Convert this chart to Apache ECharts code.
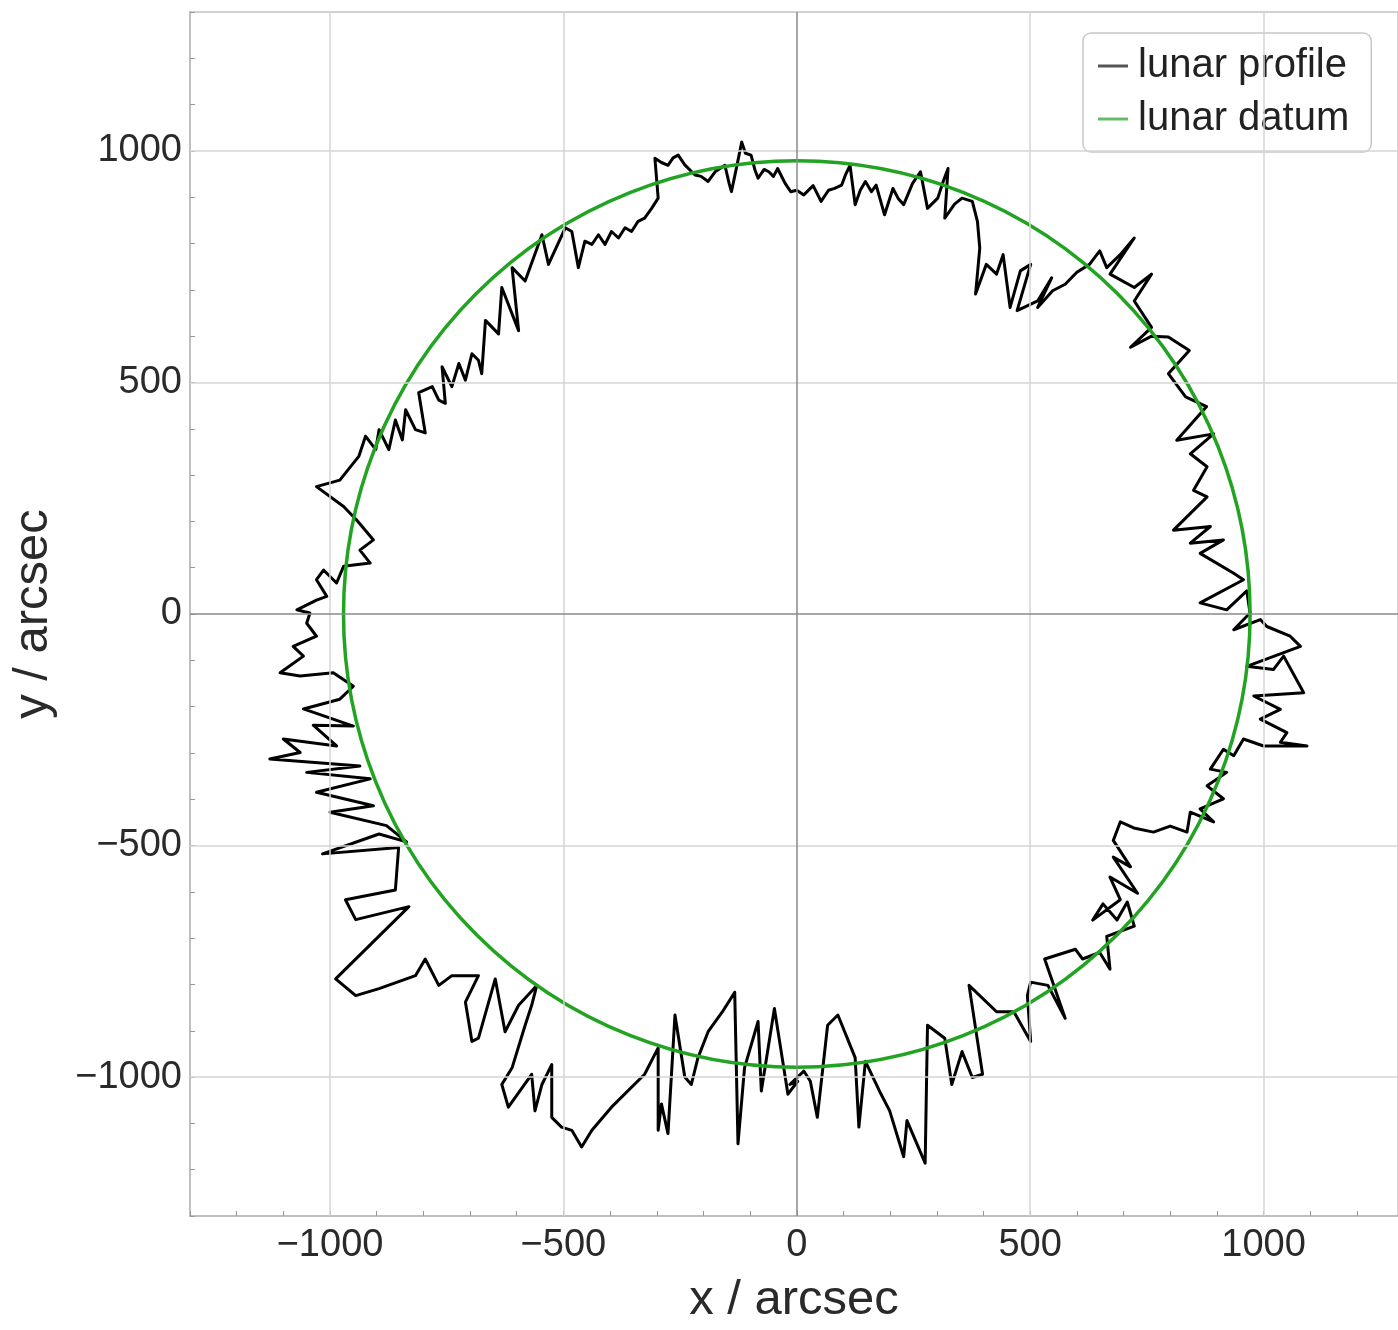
<!DOCTYPE html>
<html>
<head>
<meta charset="utf-8">
<script src="https://cdn.jsdelivr.net/npm/echarts@6/dist/echarts.min.js"></script>
<style>
  html, body { margin: 0; padding: 0; background: #fff; overflow: hidden; }
  #chart { width: 1398px; height: 1330px; }
</style>
</head>
<body>
<div id="chart"></div>
<script>
// ---- data (arcsec) ----
const datumRadius = 975;
const xRange = [-1300, 1288];      // plot is cut at the right edge of the picture
const yRange = [-1300, 1300];
const xTickLabels = [-1000, -500, 0, 500, 1000];
const yTickLabels = [-1000, -500, 0, 500, 1000];
const gridValues = [-1000, -500, 500, 1000];

// lunar profile, traced clockwise from the top
const profileTopRight = [
  [0,915],[15,905],[35,925],[52,891],[68,915],[81,919],[96,926],[105,950],[114,969],[125,884],[136,915],
  [147,934],[160,912],[170,926],[188,862],[206,919],[218,896],[229,884],[248,930],[265,955],[280,876],
  [302,898],[314,935],[324,962],[317,855],[338,885],[354,898],[376,891],[387,848],[392,790],[383,691],
  [406,755],[428,734],[442,776],[457,662],[479,741],[501,755],[472,655],[516,676],[546,726],[516,662],
  [548,698],[575,712],[600,738],[627,755],[649,784],[664,748],[693,776],[723,812],[671,734],[723,705],
  [760,734],[723,676],[760,619],[715,576],[760,600],[796,598],[841,569],[796,519],[833,469],[878,448]
];
const profileRight = [
  [814,375],[893,389],[843,346],[879,318],[850,267],[879,253],[807,181],[886,189],[843,153],[914,160],
  [864,131],[936,88],[957,74],[864,24],[921,9],[964,50],[971,2],[936,-34],[993,-12],[1007,-27],
  [1057,-48],[1079,-70],[964,-113],[1021,-120],[1043,-91],[1086,-170],[979,-177],[1036,-206],[993,-227],[1050,-256],
  [1036,-277],[1093,-285],[1000,-285],[957,-270],[936,-306],[914,-292],[886,-335],[921,-342],[879,-371],[914,-399],
  [864,-421],[893,-449],[843,-428],[836,-471],[800,-458],[764,-471],[722,-462],[693,-449],[678,-489],[715,-546],
  [678,-525],[730,-603],[671,-568],[693,-617],[634,-661],[656,-626],[686,-661],[708,-622],[723,-674],[664,-696],
  [671,-767],[649,-731],[612,-745],[597,-724],[553,-738],[531,-745],[575,-873],[538,-802],[501,-795],[494,-824],
  [501,-923],[465,-859],[428,-859],[369,-802],[398,-994],[376,-1001],[354,-945],[332,-1016],[317,-916],[280,-888],
  [275,-1186],[236,-1094],[229,-1172],[199,-1073],[177,-1030],[147,-966],[133,-1108],[125,-958],[88,-866],[66,-888],
  [44,-1087],[29,-1009],[15,-987],[-15,-1016]
];
const profileBottom = [
  [2,-1009],[-19,-1037],[-48,-852],[-76,-1030],[-83,-880],[-112,-980],[-126,-1144],[-133,-817],[-160,-860],[-190,-902],
  [-212,-959],[-226,-1016],[-240,-1000],[-261,-866],[-276,-1122],[-290,-1058],[-297,-1115],[-297,-937],[-326,-994],[-397,-1065],
  [-439,-1115],[-461,-1151],[-482,-1115],[-504,-1108],[-525,-1087],[-525,-973],[-546,-1016],[-561,-1073],[-568,-994],[-618,-1065],
  [-632,-1016],[-610,-980],[-582,-888],[-568,-845],[-557,-802],[-596,-845],[-625,-902],[-646,-788],[-682,-916],[-696,-923],
  [-710,-838],[-682,-781],[-739,-781],[-767,-802],[-796,-745],[-817,-781],[-895,-809],[-945,-824],[-988,-788],[-831,-632],
  [-945,-660],[-967,-617],[-860,-596],[-853,-504],[-1016,-518],[-895,-475],[-836,-492],[-879,-457]
];
const profileLeft = [
  [-1000,-428],[-907,-414],[-1029,-385],[-914,-356],[-1050,-342],[-936,-328],[-1129,-313],[-1064,-299],[-1100,-270],[-986,-285],
  [-1036,-240],[-950,-242],[-1057,-205],[-979,-184],[-950,-156],[-993,-127],[-1064,-134],[-1107,-127],[-1057,-91],[-1079,-70],
  [-1029,-48],[-1050,-20],[-1043,2],[-1071,9],[-1029,30],[-1007,38],[-1029,74],[-1014,95],[-986,67],[-971,103],
  [-914,110],[-936,138],[-907,160],[-943,203],[-971,232],[-1029,275],[-979,289],[-938,341],[-924,384],[-902,355],
  [-895,398],[-874,355],[-860,419],[-845,376],[-838,441],[-817,398],[-796,391],[-810,478],[-781,491],[-767,462],
  [-753,455],[-760,534],[-739,491],[-724,541],[-710,505],[-696,562],[-682,548],[-675,519],[-667,634],[-639,605],
  [-632,705],[-596,612],[-610,748],[-582,719],[-546,819],[-532,755],[-496,834],[-482,826],[-468,748],[-454,805],
  [-439,798],[-425,819],[-411,798],[-397,826],[-382,812],[-368,834],[-354,826],[-340,848],[-326,855],[-311,876],
  [-297,898],[-304,984],[-290,975],[-276,969],[-265,985],[-254,991],[-240,970],[-218,948],[-205,945],[-190,934],
  [-175,955],[-154,969],[-145,930],[-140,912],[-130,960],[-118,1019],[-110,995],[-98,991],[-90,960],[-83,941],
  [-70,960],[-60,955],[-50,945],[-41,962],[-30,940],[-25,930],[-13,912],[0,915]
];

const profile = [].concat(profileTopRight, profileRight, profileBottom, profileLeft);

const FONT = 'Liberation Sans';
const fmt = v => (v < 0 ? '\u2212' + Math.abs(v) : String(v));

const gridStyle = { color: '#d4d4d4', width: 1.5, type: 'solid' };
const zeroStyle = { color: '#8a8a8a', width: 1.5, type: 'solid' };
const gridLineData = gridValues.map(v => ({ xAxis: v, lineStyle: gridStyle }))
  .concat(gridValues.map(v => ({ yAxis: v, lineStyle: gridStyle })))
  .concat([{ xAxis: 0, lineStyle: zeroStyle }, { yAxis: 0, lineStyle: zeroStyle }]);

const chart = echarts.init(document.getElementById('chart'), null, { renderer: 'canvas' });

const axisCommon = {
  type: 'value',
  interval: 100,
  splitLine: { show: false },
  axisLine: { show: true, onZero: false, lineStyle: { color: '#b8b8b8', width: 1.5 } },
  axisTick: { show: true, inside: true, length: 5, lineStyle: { color: '#999', width: 1 } },
  nameTextStyle: { fontFamily: FONT, fontSize: 49, color: '#2a2a2a' }
};

chart.setOption({
  animation: false,
  backgroundColor: '#ffffff',
  grid: {
    left: 190, right: 0, top: 12, bottom: 109,
    show: true, borderColor: '#c4c4c4', borderWidth: 1.5, backgroundColor: 'transparent'
  },
  legend: {
    orient: 'vertical',
    left: 1083, top: 33,
    padding: [13, 22, 13, 15],
    itemGap: 13,
    itemWidth: 30, itemHeight: 3,
    icon: 'rect',
    backgroundColor: '#ffffff',
    borderColor: '#c8c8c8', borderWidth: 1.5, borderRadius: 8,
    textStyle: { fontFamily: FONT, fontSize: 40, color: '#222', padding: [0, 0, 0, 5] },
    data: [
      { name: 'lunar profile', itemStyle: { color: '#555555' } },
      { name: 'lunar datum', itemStyle: { color: '#66bb66' } }
    ]
  },
  xAxis: Object.assign({}, axisCommon, {
    min: xRange[0], max: xRange[1],
    name: 'x / arcsec', nameLocation: 'middle', nameGap: 60,
    axisLabel: {
      fontFamily: FONT, fontSize: 38, color: '#2a2a2a', margin: 11,
      showMaxLabel: false,
      formatter: v => (xTickLabels.indexOf(v) >= 0 ? fmt(v) : '')
    }
  }),
  yAxis: Object.assign({}, axisCommon, {
    min: yRange[0], max: yRange[1],
    name: 'y / arcsec', nameLocation: 'middle', nameGap: 132, nameRotate: 90,
    axisLabel: {
      fontFamily: FONT, fontSize: 38, color: '#2a2a2a', margin: 8,
      formatter: v => (yTickLabels.indexOf(v) >= 0 ? fmt(v) : '')
    }
  }),
  series: [
    {
      name: 'grid',
      type: 'line',
      z: 1,
      data: [[0, 0]],
      symbolSize: 0,
      showSymbol: false,
      lineStyle: { opacity: 0 },
      silent: true,
      markLine: {
        silent: true,
        symbol: ['none', 'none'],
        label: { show: false },
        data: gridLineData
      }
    },
    {
      name: 'lunar profile',
      type: 'line',
      z: 3,
      data: profile,
      showSymbol: false,
      smooth: false,
      lineStyle: { color: '#000', width: 3, join: 'round' },
      itemStyle: { color: '#555' }
    },
    {
      name: 'lunar datum',
      type: 'custom',
      z: 4,
      data: [[0, 0, datumRadius]],
      itemStyle: { color: '#66bb66' },
      renderItem: function (params, api) {
        const c = api.coord([api.value(0), api.value(1)]);
        const s = api.size([api.value(2), api.value(2)]);
        return {
          type: 'circle',
          shape: { cx: c[0], cy: c[1], r: (s[0] + s[1]) / 2 },
          style: { fill: 'none', stroke: '#22a322', lineWidth: 3.5 }
        };
      }
    }
  ]
});
</script>
</body>
</html>
